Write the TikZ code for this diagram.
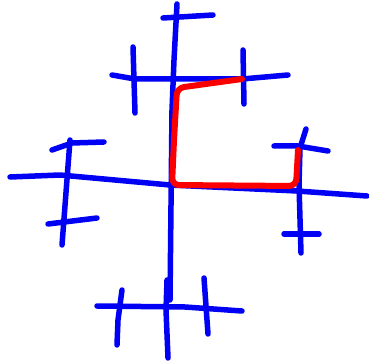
\documentclass[tikz,border=0pt]{standalone}
\usepackage{xcolor}
\usepackage{tikz}
\usetikzlibrary{calc}
\definecolor{penblue}{RGB}{0, 0,245}
\definecolor{penred} {RGB}{250, 0, 0}
\tikzset{
  stroke/.style={draw=penblue,line width=5.5pt,line cap=round,line join=round},
  route/.style={draw=penred,line width=6pt,line cap=round,line join=round,
                rounded corners=7pt},
}
\begin{document}
\begin{tikzpicture}[x=1pt,y=-1pt]
  \useasboundingbox (0,0) rectangle (369,363);
  % main cross
  \draw[stroke] (177,4) -- (174,60) -- (172,110) -- (170,300);
  \draw[stroke] (167,280) -- (166,310) -- (168,358);
  \draw[stroke] (10,177) -- (60,175) -- (170,185) -- (297,191) -- (367,196);
  % top arm
  \draw[stroke] (163,18) -- (213,15);
  \draw[stroke] (112,75) -- (135,79) -- (242,79) -- (288,75);
  \draw[stroke] (133,47) -- (135,113);
  \draw[stroke] (243,50) -- (244,104);
  % left arm
  \draw[stroke] (70,140) -- (62,245);
  \draw[stroke] (52,150) -- (72,143) -- (104,142);
  \draw[stroke] (48,224) -- (97,218);
  % right arm
  \draw[stroke] (306,129) -- (300,148) -- (299,185) -- (301,253);
  \draw[stroke] (274,146) -- (298,146) -- (328,151);
  \draw[stroke] (284,234) -- (319,234);
  % bottom arm
  \draw[stroke] (97,306) -- (185,307) -- (242,311);
  \draw[stroke] (122,290) -- (118,320) -- (117,345);
  \draw[stroke] (204,278) -- (208,334);
  % red path
  \draw[route] (242,79) -- (177,88) -- (174,140) -- (172,185)
    -- (296,186) -- (298,150);
\end{tikzpicture}
\end{document}
